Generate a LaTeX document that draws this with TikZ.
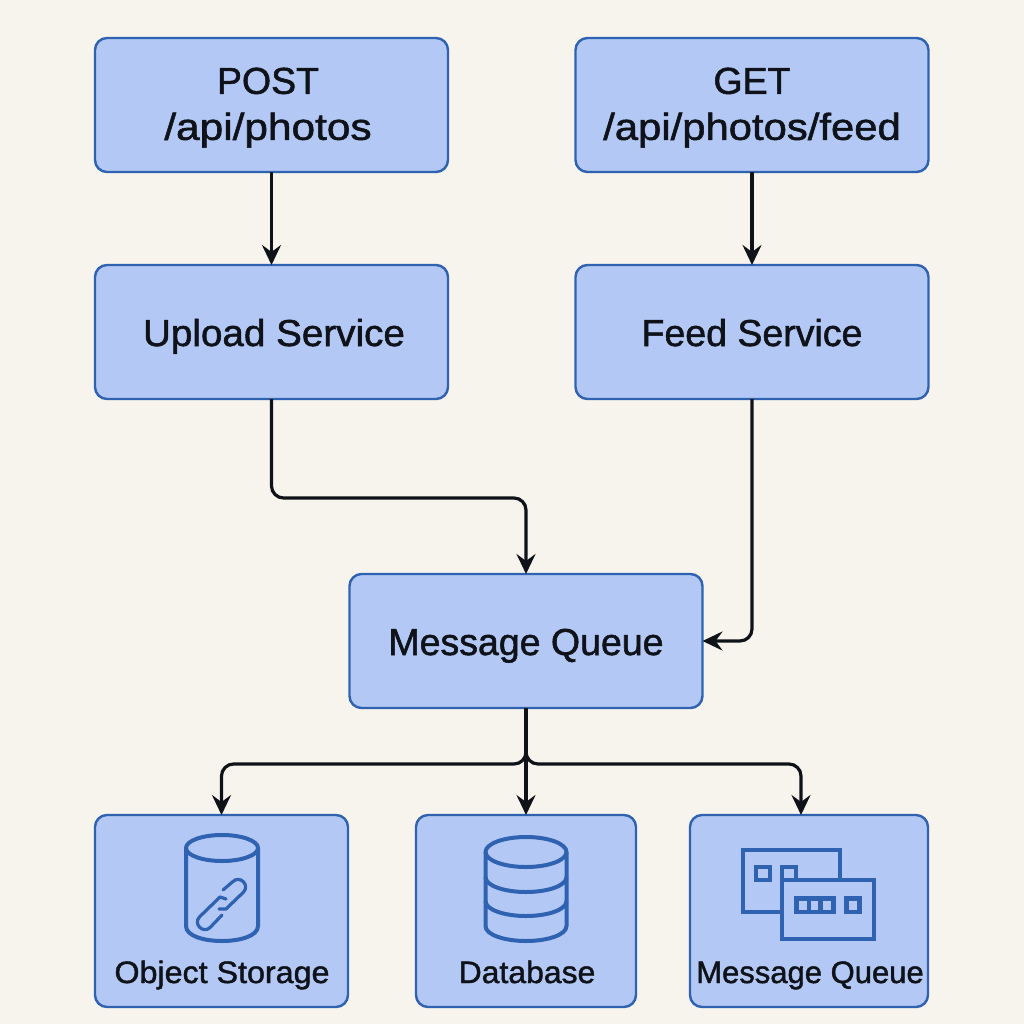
\documentclass[tikz,border=0pt]{standalone}
\usepackage{fontspec}
\setmainfont[FakeBold=1.4]{Liberation Sans}
\usetikzlibrary{arrows.meta}
\definecolor{bgc}{HTML}{F7F4EE}
\definecolor{boxfill}{HTML}{B3C8F4}
\definecolor{boxedge}{HTML}{2F62B0}
\definecolor{inkc}{HTML}{0F1319}
\newcommand{\lowered}[1]{\raisebox{-14pt}[0pt][0pt]{#1}}
\tikzset{
  svc/.style={draw=boxedge,fill=boxfill,line width=2.4pt,rounded corners=12pt,outer sep=0pt,inner sep=0pt,
    minimum width=#1,align=center,text=inkc,font=\fontsize{37.5}{46}\selectfont},
  svc/.default=353pt,
  lab/.style={text=inkc,font=\fontsize{31}{34}\selectfont,inner sep=0pt,text height=23pt,text depth=7pt},
  conn/.style={draw=inkc,line width=3.2pt,rounded corners=12pt,-{Stealth[length=20pt,width=19pt,inset=7pt]}},
  icon/.style={draw=boxedge,line width=4pt,line join=round},
  iconsq/.style={draw=boxedge,line width=4.2pt,line join=miter},
}
\begin{document}
\begin{tikzpicture}[x=1pt,y=-1pt]
\useasboundingbox (0,0) rectangle (1024,1024);
\fill[bgc] (0,0) rectangle (1024,1024);
% top rows
\node[svc,minimum height=134pt] (post) at (271.5,105) {\rule{0pt}{31.5pt}\hspace*{-7pt}POST\hspace*{0pt}\\\hspace*{-7pt}\scalebox{1.13}[1]{/api/photos}};
\node[svc,minimum height=134pt] (get) at (752,105) {\rule{0pt}{31.5pt}GET\\\scalebox{1.115}[1]{/api/photos/feed}};
\node[svc,minimum height=134pt] (up) at (271.5,332) {\lowered{\hspace*{5pt}\scalebox{1.03}[1]{Upload Service}}};
\node[svc,minimum height=134pt] (feed) at (752,332) {\lowered{Feed Service}};
\node[svc,minimum height=134pt] (mq) at (526,641) {\lowered{Message Queue}};
% bottom boxes
\node[svc=253pt,minimum height=192pt] (obj) at (221.5,911) {};
\node[svc=220pt,minimum height=192pt] (db) at (526,911) {};
\node[svc=238pt,minimum height=192pt] (mq2) at (809,911) {};
\node[lab] (objl) at (222,975) {\scalebox{1.04}[1]{Object Storage}};
\node[lab] (dbl) at (527,975) {\scalebox{1.03}[1]{Database}};
\node[lab] (mql) at (810,975) {Message Queue};
% helpers
\coordinate (jog) at (526,498);
\coordinate (hub) at (526,764);
\coordinate (mq2top) at (801,815);
% connectors
\draw[conn] (post.south) -- (up.north);
\draw[conn] (get.south) -- (feed.north);
\draw[conn] (up.south) |- (jog) -- (mq.north);
\draw[conn] (feed.south) |- (mq.east);
\draw[conn] (mq.south) -- (db.north);
\draw[conn] (mq.south) -- (hub) -| (obj.north);
\draw[conn] (mq.south) -- (hub) -| (mq2top);
% object storage icon
\draw[icon] (222,848) ellipse [x radius=36pt,y radius=13pt];
\draw[icon] (186,848) -- (186,926) .. controls (186,936) and (204,941) .. (222,941) .. controls (240,941) and (258,936) .. (258,926) -- (258,848);
\draw[icon,line width=3.2pt,line cap=round] (223,890) -- (232.7,881.7) .. controls (239.8,874.6) and (250.4,885.2) .. (243.3,892.3) -- (226,909) -- (219,909);
\draw[icon,line width=3.2pt,line cap=round] (226,899) -- (220,897) -- (199.7,916.7) .. controls (192.6,923.8) and (203.2,934.4) .. (210.3,927.3) -- (222,915);
% database icon
\draw[icon] (526,852) ellipse [x radius=40.5pt,y radius=15pt];
\draw[icon] (485.5,852) -- (485.5,926) .. controls (485.5,935) and (505,941) .. (526,941) .. controls (547,941) and (566.5,935) .. (566.5,926) -- (566.5,852);
\draw[icon] (485.5,877) .. controls (485.5,886) and (505,892) .. (526,892) .. controls (547,892) and (566.5,886) .. (566.5,877);
\draw[icon] (485.5,901) .. controls (485.5,910) and (505,916) .. (526,916) .. controls (547,916) and (566.5,910) .. (566.5,901);
% queue icon
\draw[iconsq] (840,878) -- (840,850) -- (743,850) -- (743,912) -- (781,912);
\draw[iconsq] (756,867) rectangle (770,880);
\draw[iconsq] (782,878) -- (782,867) -- (796,867) -- (796,878);
\draw[iconsq] (782,880) rectangle (874,939);
\fill[boxedge] (794,896) rectangle (836,914);
\fill[boxfill] (799,901) rectangle (807,910);
\fill[boxfill] (811,901) rectangle (818,910);
\fill[boxfill] (823,901) rectangle (831,910);
\fill[boxedge] (844,896) rectangle (862,914);
\fill[boxfill] (849,901) rectangle (857,910);
\end{tikzpicture}
\end{document}
